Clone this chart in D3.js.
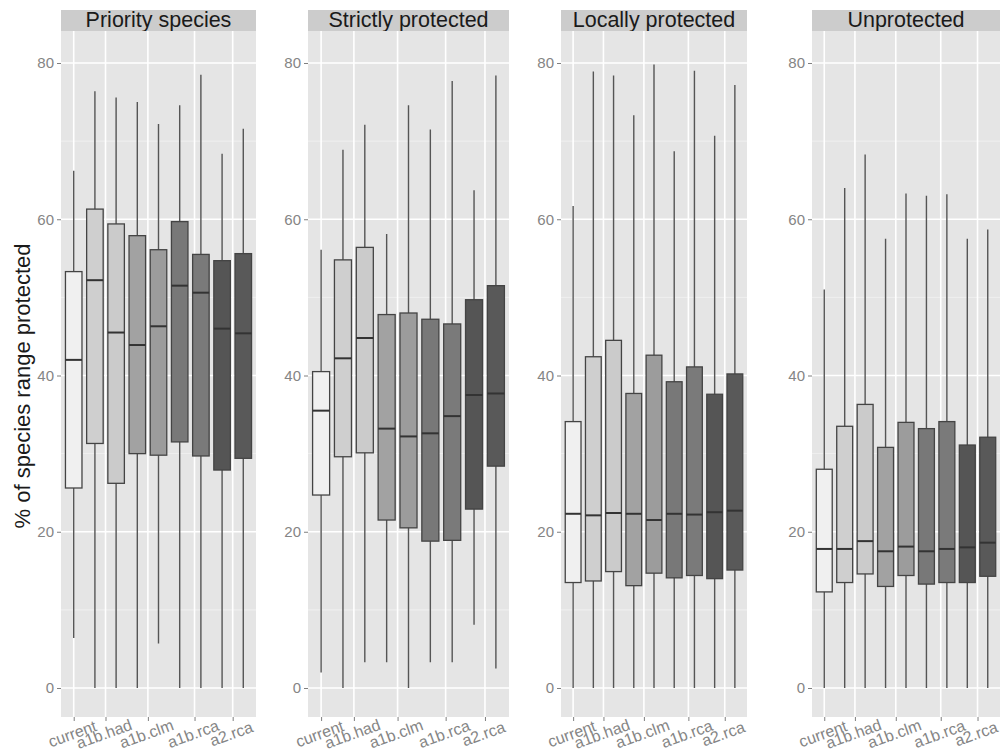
<!DOCTYPE html>
<html>
<head>
<meta charset="utf-8">
<script src="https://cdn.jsdelivr.net/npm/d3@7"></script>
<style>
  body { margin: 0; background: #fff; }
  svg { display: block; font-family: "Liberation Sans", Arial, sans-serif; }
</style>
</head>
<body>
<svg id="chart" width="1000" height="752"></svg>
<script>
// facet titles
var panelTitles = ["Priority species", "Strictly protected", "Locally protected", "Unprotected"];

// x axis labels, and the box index each label sits under
var tickLabels = ["current", "a1b.had", "a1b.clm", "a1b.rca", "a2.rca"];
var tickAt = [0, 1.5, 3.5, 5.7, 7.5];

var yTicks = [0, 20, 40, 60, 80];

// boxes: [lower whisker, q1, median, q3, upper whisker]
var priorityStats = [
  [6.4, 25.6, 42.0, 53.3, 66.2],
  [0, 31.3, 52.2, 61.3, 76.4],
  [0, 26.2, 45.5, 59.4, 75.6],
  [0, 30.0, 43.9, 57.9, 75.0],
  [5.7, 29.8, 46.3, 56.1, 72.2],
  [0, 31.5, 51.5, 59.7, 74.6],
  [0, 29.7, 50.6, 55.5, 78.5],
  [0, 27.9, 46.0, 54.7, 68.4],
  [0, 29.4, 45.4, 55.6, 71.6]
];
var strictStats = [
  [2.0, 24.7, 35.5, 40.5, 56.1],
  [0, 29.6, 42.2, 54.8, 68.9],
  [3.3, 30.1, 44.8, 56.4, 72.1],
  [3.3, 21.5, 33.2, 47.8, 58.1],
  [0, 20.5, 32.2, 48.0, 74.6],
  [3.3, 18.8, 32.6, 47.2, 71.5],
  [3.3, 18.9, 34.8, 46.6, 77.7],
  [8.1, 22.9, 37.5, 49.7, 63.7],
  [2.5, 28.4, 37.7, 51.5, 78.4]
];
var localStats = [
  [0, 13.5, 22.3, 34.1, 61.7],
  [0, 13.7, 22.1, 42.4, 78.9],
  [0, 14.9, 22.4, 44.5, 78.4],
  [0, 13.1, 22.3, 37.7, 73.3],
  [0, 14.7, 21.5, 42.6, 79.8],
  [0, 14.1, 22.3, 39.2, 68.7],
  [0, 14.4, 22.2, 41.1, 79.0],
  [0, 14.0, 22.5, 37.6, 70.7],
  [0, 15.1, 22.7, 40.2, 77.2]
];
var unprotStats = [
  [0, 12.3, 17.8, 28.0, 51.0],
  [0, 13.5, 17.8, 33.5, 64.0],
  [0, 14.6, 18.8, 36.3, 68.3],
  [0, 13.0, 17.5, 30.8, 57.5],
  [0, 14.4, 18.1, 34.0, 63.3],
  [0, 13.3, 17.5, 33.2, 63.0],
  [0, 13.5, 17.8, 34.1, 63.2],
  [0, 13.5, 18.0, 31.1, 57.5],
  [0, 14.3, 18.6, 32.1, 58.7]
];
var panelStats = [priorityStats, strictStats, localStats, unprotStats];

var boxFills = ["#f0f0f0", "#cfcfcf", "#cbcbcb", "#a2a2a2", "#9c9c9c", "#787878", "#7a7a7a", "#555555", "#595959"];

// pixel extents of the four facets (they were pasted side by side)
var panelX = [[61, 256], [308, 509], [561, 747], [812, 1000]];
var stripTop = 10, stripBottom = 31, plotBottom = 717;

var svg = d3.select("#chart");

var y = d3.scaleLinear().domain([0, 80]).range([688, 63]);

panelStats.forEach(function(stats, p) {
  var x = d3.scaleLinear().domain([-0.6, stats.length - 1 + 0.6]).range(panelX[p]);
  var left = panelX[p][0], right = panelX[p][1];
  var g = svg.append("g");

  // strip
  g.append("rect")
    .attr("x", left).attr("y", stripTop)
    .attr("width", right - left).attr("height", stripBottom - stripTop)
    .style("fill", "#cccccc");
  g.append("text")
    .attr("x", (left + right) / 2).attr("y", stripBottom - 4)
    .style("text-anchor", "middle")
    .style("font-size", "21.5px")
    .style("fill", "#1a1a1a")
    .text(panelTitles[p]);

  // panel background
  g.append("rect")
    .attr("x", left).attr("y", stripBottom)
    .attr("width", right - left).attr("height", plotBottom - stripBottom)
    .style("fill", "#e5e5e5");

  // minor grid
  g.selectAll(".minor")
    .data([10, 30, 50, 70])
    .enter().append("line")
      .attr("x1", left).attr("x2", right)
      .attr("y1", function(d) { return y(d); })
      .attr("y2", function(d) { return y(d); })
      .style("stroke", "#f2f2f2")
      .style("stroke-width", 0.8);

  // major grid
  g.selectAll(".hmajor")
    .data(yTicks)
    .enter().append("line")
      .attr("x1", left).attr("x2", right)
      .attr("y1", function(d) { return y(d); })
      .attr("y2", function(d) { return y(d); })
      .style("stroke", "#ffffff")
      .style("stroke-width", 1.6);
  g.selectAll(".vmajor")
    .data(tickAt)
    .enter().append("line")
      .attr("y1", stripBottom).attr("y2", plotBottom)
      .attr("x1", function(d) { return x(d); })
      .attr("x2", function(d) { return x(d); })
      .style("stroke", "#ffffff")
      .style("stroke-width", 1.6);

  var bw = (x(1) - x(0)) * 0.78;

  // whiskers
  g.selectAll(".whisker")
    .data(stats)
    .enter().append("line")
      .attr("x1", function(d, i) { return x(i); })
      .attr("x2", function(d, i) { return x(i); })
      .attr("y1", function(d) { return y(d[0]); })
      .attr("y2", function(d) { return y(d[4]); })
      .style("stroke", "#555555")
      .style("stroke-width", 1.4);

  // boxes
  g.selectAll(".box")
    .data(stats)
    .enter().append("rect")
      .attr("x", function(d, i) { return x(i) - bw / 2; })
      .attr("width", bw)
      .attr("y", function(d) { return y(d[3]); })
      .attr("height", function(d) { return y(d[1]) - y(d[3]); })
      .style("fill", function(d, i) { return boxFills[i]; })
      .style("stroke", "#444444")
      .style("stroke-width", 1.3);

  // medians
  g.selectAll(".median")
    .data(stats)
    .enter().append("line")
      .attr("x1", function(d, i) { return x(i) - bw / 2; })
      .attr("x2", function(d, i) { return x(i) + bw / 2; })
      .attr("y1", function(d) { return y(d[2]); })
      .attr("y2", function(d) { return y(d[2]); })
      .style("stroke", "#333333")
      .style("stroke-width", 2);

  // y axis
  var yAxis = g.append("g")
    .attr("transform", "translate(" + left + ",0)")
    .call(d3.axisLeft(y).tickValues(yTicks).tickSize(4).tickPadding(3));
  yAxis.select(".domain").remove();
  yAxis.selectAll("line").style("stroke", "#7f7f7f");
  yAxis.selectAll("text")
    .style("font-family", "Liberation Sans, Arial, sans-serif")
    .style("font-size", "15px")
    .style("fill", "#858585");

  // x axis w/ rotated labels
  var xAxis = g.append("g")
    .attr("transform", "translate(0," + plotBottom + ")")
    .call(d3.axisBottom(x).tickValues(tickAt)
      .tickFormat(function(d, i) { return tickLabels[i]; })
      .tickSize(4));
  xAxis.select(".domain").remove();
  xAxis.selectAll("line").style("stroke", "#7f7f7f");
  xAxis.selectAll("text")
    .attr("y", 0).attr("dy", 0)
    .attr("transform", "translate(0,22) rotate(-20)")
    .style("text-anchor", "middle")
    .style("font-family", "Liberation Sans, Arial, sans-serif")
    .style("font-size", "16px")
    .style("fill", "#858585");
});

// y axis title
svg.append("text")
  .attr("transform", "translate(30,386) rotate(-90)")
  .style("text-anchor", "middle")
  .style("font-size", "22px")
  .style("fill", "#1a1a1a")
  .text("% of species range protected");
</script>
</body>
</html>
